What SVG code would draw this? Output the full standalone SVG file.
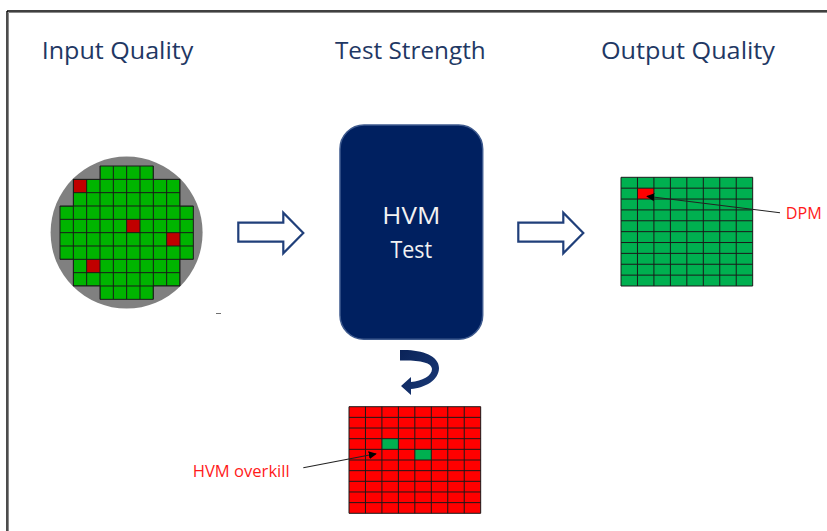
<svg xmlns="http://www.w3.org/2000/svg" width="827" height="531" viewBox="0 0 827 531">
  <style>
    .title { font-family: "Open Sans", "Liberation Sans", sans-serif; font-size: 23.5px; fill: #1F3864; }
    .box-text { font-family: "Open Sans", "Liberation Sans", sans-serif; font-size: 24px; fill: #F2F2F2; text-anchor: middle; }
    .label { font-family: "Open Sans", "Liberation Sans", sans-serif; fill: #FF1A1A; }
    .grid { fill: none; stroke: #1A1A1A; stroke-width: 1; vector-effect: non-scaling-stroke; }
    .block-arrow { fill: #FFFFFF; stroke: #203F7A; stroke-width: 2.2; stroke-linejoin: miter; }
    .pointer { stroke: #222222; stroke-width: 1.1; fill: none; marker-end: url(#head); }
  </style>
  <defs>
    <marker id="head" viewBox="0 0 10 10" refX="9" refY="5" markerWidth="8" markerHeight="8" markerUnits="userSpaceOnUse" orient="auto">
      <path d="M0,0 L10,5 L0,10 Z" fill="#000000"/>
    </marker>
    <clipPath id="waferClip">
      <path d="M3,0 H7 V1 H9 V3 H10 V7 H9 V9 H7 V10 H3 V9 H1 V7 H0 V3 H1 V1 H3 Z"/>
    </clipPath>
    <linearGradient id="curveGrad" x1="0" y1="0" x2="1" y2="1">
      <stop offset="0" stop-color="#0A2358"/>
      <stop offset="1" stop-color="#1B3A78"/>
    </linearGradient>
  </defs>

  <rect x="0" y="0" width="827" height="531" fill="#FFFFFF"/>

  <!-- frame -->
  <g id="frame">
    <line x1="8.5" y1="12.5" x2="827" y2="12.5" stroke="#8A8A8A" stroke-width="1"/>
    <line x1="8.5" y1="12.5" x2="8.5" y2="531" stroke="#8A8A8A" stroke-width="1"/>
    <line x1="7" y1="11" x2="827" y2="11" stroke="#000000" stroke-width="1.4"/>
    <line x1="7" y1="11" x2="7" y2="531" stroke="#000000" stroke-width="1.4"/>
  </g>

  <!-- titles -->
  <g id="titles">
    <text class="title" x="41.7" y="58.5" textLength="151.6" lengthAdjust="spacingAndGlyphs">Input Quality</text>
    <text class="title" x="335" y="58.5" textLength="150.7" lengthAdjust="spacingAndGlyphs">Test Strength</text>
    <text class="title" x="601" y="58.5" textLength="174" lengthAdjust="spacingAndGlyphs">Output Quality</text>
  </g>

  <!-- input wafer -->
  <g id="input-wafer">
    <circle cx="126.6" cy="232.6" r="76" fill="#808080"/>
    <g transform="translate(60,166) scale(13.333)">
      <path d="M3,0 H7 V1 H9 V3 H10 V7 H9 V9 H7 V10 H3 V9 H1 V7 H0 V3 H1 V1 H3 Z" fill="#00B400"/>
      <rect x="1" y="1" width="1" height="1" fill="#C00000"/>
      <rect x="5" y="4" width="1" height="1" fill="#C00000"/>
      <rect x="8" y="5" width="1" height="1" fill="#C00000"/>
      <rect x="2" y="7" width="1" height="1" fill="#C00000"/>
      <path class="grid" clip-path="url(#waferClip)" stroke="#143A14" d="M1,0 V10 M2,0 V10 M3,0 V10 M4,0 V10 M5,0 V10 M6,0 V10 M7,0 V10 M8,0 V10 M9,0 V10 M0,1 H10 M0,2 H10 M0,3 H10 M0,4 H10 M0,5 H10 M0,6 H10 M0,7 H10 M0,8 H10 M0,9 H10"/>
      <path class="grid" stroke="#143A14" d="M3,0 H7 V1 H9 V3 H10 V7 H9 V9 H7 V10 H3 V9 H1 V7 H0 V3 H1 V1 H3 Z"/>
    </g>
    <line x1="216" y1="313.5" x2="221" y2="313.5" stroke="#707070" stroke-width="1"/>
  </g>

  <!-- HVM test box -->
  <g id="hvm-test">
    <rect x="340" y="125" width="142.7" height="214.3" rx="24" ry="24" fill="#002060" stroke="#3E5A8E" stroke-width="1.5"/>
    <text class="box-text" x="411.3" y="224" textLength="58" lengthAdjust="spacingAndGlyphs">HVM</text>
    <text class="box-text" x="411.3" y="258.3" textLength="41.7" lengthAdjust="spacingAndGlyphs">Test</text>
  </g>

  <!-- output grid -->
  <g id="output-quality">
    <g transform="translate(621,177.3) scale(16.46,10.87)">
      <rect x="0" y="0" width="8" height="10" fill="#00B050"/>
      <rect x="1" y="1" width="1" height="1" fill="#FF0000"/>
      <path class="grid" d="M1,0 V10 M2,0 V10 M3,0 V10 M4,0 V10 M5,0 V10 M6,0 V10 M7,0 V10 M0,1 H8 M0,2 H8 M0,3 H8 M0,4 H8 M0,5 H8 M0,6 H8 M0,7 H8 M0,8 H8 M0,9 H8"/>
      <rect class="grid" x="0" y="0" width="8" height="10"/>
    </g>
  </g>

  <!-- overkill grid -->
  <g id="overkill-grid">
    <g transform="translate(349,406.7) scale(16.46,10.66)">
      <rect x="0" y="0" width="8" height="10" fill="#FF0000"/>
      <rect x="2" y="3" width="1" height="1" fill="#00B050"/>
      <rect x="4" y="4" width="1" height="1" fill="#00B050"/>
      <path class="grid" stroke="#2A0000" d="M1,0 V10 M2,0 V10 M3,0 V10 M4,0 V10 M5,0 V10 M6,0 V10 M7,0 V10 M0,1 H8 M0,2 H8 M0,3 H8 M0,4 H8 M0,5 H8 M0,6 H8 M0,7 H8 M0,8 H8 M0,9 H8"/>
      <rect class="grid" stroke="#707070" x="0" y="0" width="8" height="10"/>
    </g>
  </g>

  <!-- labels -->
  <g id="label-dpm">
    <text class="label" x="785.7" y="219" font-size="16" textLength="36" lengthAdjust="spacingAndGlyphs">DPM</text>
  </g>
  <g id="label-overkill">
    <text class="label" x="192.7" y="476.7" font-size="17" textLength="97" lengthAdjust="spacingAndGlyphs">HVM overkill</text>
  </g>

  <!-- connectors -->
  <g id="connectors">
    <path class="block-arrow" d="M238.3,222.7 H283.3 V212.7 L303.3,233 L283.3,253.3 V241.7 H238.3 Z"/>
    <path class="block-arrow" d="M518.3,222.7 H563.3 V212.7 L583.3,233 L563.3,253.3 V241.7 H518.3 Z"/>
    <path d="M400,350 C420,349 439,355 439,368 C439,380 425,388 411,389 L411,395 L401,386 L411,377 L411,382 C422,381 432,376 432,369 C432,362 418,360 400,360.5 Z" fill="url(#curveGrad)"/>
    <line class="pointer" x1="780" y1="212.7" x2="647" y2="196.3"/>
    <line class="pointer" x1="303.3" y1="467.7" x2="376" y2="453.8"/>
  </g>
</svg>
